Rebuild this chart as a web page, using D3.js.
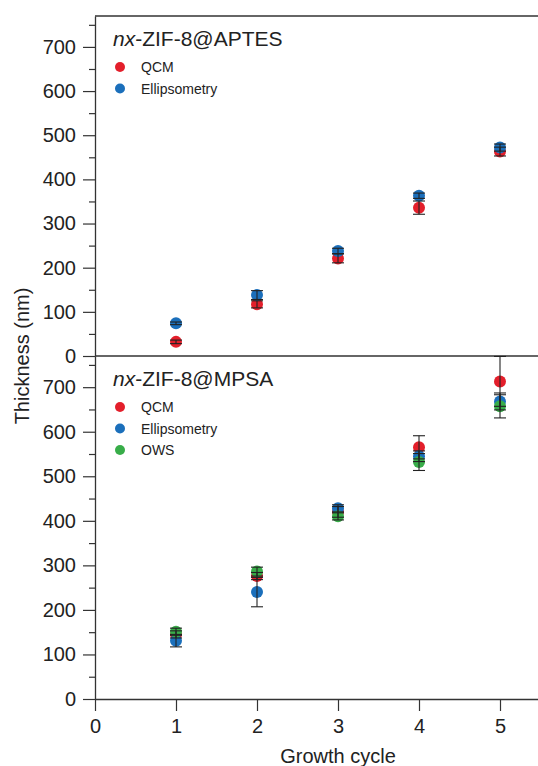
<!DOCTYPE html>
<html>
<head>
<meta charset="utf-8">
<script src="https://cdn.jsdelivr.net/npm/d3@7"></script>
<style>
  body { margin: 0; background: #fff; }
  text { font-family: "Liberation Sans", Arial, sans-serif; fill: #222; }
</style>
</head>
<body>
<svg id="chart"></svg>
<script>
// growth cycles on the x axis
const cycles = [1, 2, 3, 4, 5];

// nx-ZIF-8@APTES (top panel)
const aptesQcm = [32, 117, 221, 336, 463];
const aptesQcmErr = [4, 8, 10, 15, 10];
const aptesEll = [74, 138, 238, 363, 472];
const aptesEllErr = [3, 10, 6, 6, 8];

// nx-ZIF-8@MPSA (bottom panel)
const mpsaQcm = [145, 276, 420, 565, 713];
const mpsaQcmErr = [8, 8, 12, 26, 56];
const mpsaEll = [131, 240, 428, 545, 668];
const mpsaEllErr = [14, 33, 8, 12, 19];
const mpsaOws = [151, 286, 410, 532, 657];
const mpsaOwsErr = [8, 10, 8, 19, 26];

// tick values
const xTicks = [0, 1, 2, 3, 4, 5];
const yTicks = [0, 100, 200, 300, 400, 500, 600, 700];
const yMinor = [50, 150, 250, 350, 450, 550, 650, 750];

const colors = {QCM: '#e31f2b', Ellipsometry: '#1b6fbb', OWS: '#38ad49'};

let width = 538;
let height = 766;
let left = 95;
let topY = 16;
let midY = 356;
let bottomY = 699;

let svg = d3.select('#chart')
    .attr('width', width)
    .attr('height', height);

let xScale = d3.scaleLinear().domain([0, 5.5]).range([left, left + 81 * 5.5]);

//one panel = y axis, frame line on top, points, legend
let drawPanel = (y0, y1, title, series) => {
    let yScale = d3.scaleLinear().domain([0, 770]).range([y0, y1]);

    let gY = svg.append('g')
        .attr('transform', 'translate(' + left + ',0)')
        .call(d3.axisLeft(yScale).tickValues(yTicks).tickSize(12).tickPadding(7).tickSizeOuter(0));
    gY.select('.domain').attr('stroke', '#333').attr('stroke-width', 1.3);
    gY.selectAll('.tick line').attr('stroke', '#333').attr('stroke-width', 1.2);
    gY.selectAll('.tick text').style('font-size', '20px').attr('fill', '#222');

    let gMinor = svg.append('g')
        .attr('transform', 'translate(' + left + ',0)')
        .call(d3.axisLeft(yScale).tickValues(yMinor).tickSize(6).tickFormat('').tickSizeOuter(0));
    gMinor.select('.domain').remove();
    gMinor.selectAll('.tick line').attr('stroke', '#333').attr('stroke-width', 1.2);

    svg.append('line')
        .attr('x1', left).attr('x2', width)
        .attr('y1', y1).attr('y2', y1)
        .attr('stroke', '#333').attr('stroke-width', 1.3);

    // markers first, error bars on top
    series.forEach(s => {
        svg.append('g').selectAll('circle')
            .data(cycles)
            .enter()
            .append('circle')
            .attr('cx', d => xScale(d))
            .attr('cy', (d, i) => yScale(s.values[i]))
            .attr('r', 6)
            .attr('fill', colors[s.name]);
    });
    series.forEach(s => {
        let g = svg.append('g');
        cycles.forEach((c, i) => {
            let cx = xScale(c);
            let lo = yScale(s.values[i] - s.err[i]);
            let hi = yScale(s.values[i] + s.err[i]);
            g.append('line').attr('x1', cx).attr('x2', cx).attr('y1', lo).attr('y2', hi);
            g.append('line').attr('x1', cx - 6).attr('x2', cx + 6).attr('y1', lo).attr('y2', lo);
            g.append('line').attr('x1', cx - 6).attr('x2', cx + 6).attr('y1', hi).attr('y2', hi);
        });
        g.selectAll('line').attr('stroke', '#222').attr('stroke-width', 1.1);
    });

    // title + legend
    let t = svg.append('text')
        .attr('x', 113)
        .attr('y', y1 + 30)
        .style('font-size', '21px');
    t.append('tspan').style('font-style', 'italic').text('nx');
    t.append('tspan').text(title);

    series.forEach((s, i) => {
        let ly = y1 + 51 + i * 21.5;
        svg.append('circle').attr('cx', 120).attr('cy', ly).attr('r', 5).attr('fill', colors[s.name]);
        svg.append('text')
            .attr('x', 141)
            .attr('y', ly + 5)
            .style('font-size', '14px')
            .text(s.name);
    });
};

drawPanel(midY, topY, '-ZIF-8@APTES', [
    {name: 'QCM', values: aptesQcm, err: aptesQcmErr},
    {name: 'Ellipsometry', values: aptesEll, err: aptesEllErr}
]);

drawPanel(bottomY, midY, '-ZIF-8@MPSA', [
    {name: 'QCM', values: mpsaQcm, err: mpsaQcmErr},
    {name: 'Ellipsometry', values: mpsaEll, err: mpsaEllErr},
    {name: 'OWS', values: mpsaOws, err: mpsaOwsErr}
]);

//x axis at the bottom
let gX = svg.append('g')
    .attr('transform', 'translate(0,' + bottomY + ')')
    .call(d3.axisBottom(xScale).tickValues(xTicks).tickFormat(d3.format('d')).tickSize(12).tickPadding(8).tickSizeOuter(0));
gX.select('.domain').attr('stroke', '#333').attr('stroke-width', 1.3);
gX.selectAll('.tick line').attr('stroke', '#333').attr('stroke-width', 1.2);
gX.selectAll('.tick text').style('font-size', '20px').attr('fill', '#222');

//Axis titles
svg.append('text')
    .attr('x', 338)
    .attr('y', 763)
    .attr('text-anchor', 'middle')
    .style('font-size', '20px')
    .text('Growth cycle');

svg.append('text')
    .attr('transform', 'translate(29,' + midY + ') rotate(-90)')
    .attr('text-anchor', 'middle')
    .style('font-size', '20px')
    .text('Thickness (nm)');
</script>
</body>
</html>
